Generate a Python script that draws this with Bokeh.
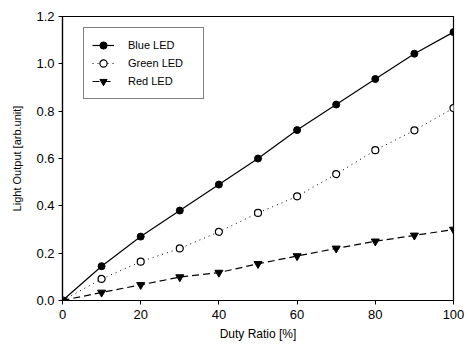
from bokeh.plotting import figure
from bokeh.embed import file_html
from bokeh.resources import INLINE
from bokeh.models import Range1d, FixedTicker, Legend, LegendItem

duty = [0, 10, 20, 30, 40, 50, 60, 70, 80, 90, 100]
blue = [0.0, 0.145, 0.27, 0.38, 0.49, 0.60, 0.72, 0.828, 0.936, 1.043, 1.134]
green = [0.0, 0.091, 0.164, 0.22, 0.29, 0.37, 0.44, 0.534, 0.635, 0.719, 0.813]
red = [0.0, 0.034, 0.066, 0.099, 0.118, 0.155, 0.188, 0.22, 0.25, 0.275, 0.30]
x_ticks = [0, 20, 40, 60, 80, 100]
y_ticks = [0.0, 0.2, 0.4, 0.6, 0.8, 1.0, 1.2]

FONT = "Liberation Sans"

p = figure(width=466, height=345, output_backend="svg", toolbar_location=None,
           x_range=Range1d(0, 100), y_range=Range1d(0, 1.2),
           min_border_left=62, min_border_right=13, min_border_top=16, min_border_bottom=45)
p.xgrid.visible = False
p.ygrid.visible = False
p.outline_line_color = "black"
p.outline_line_width = 1.2

for ax in (p.xaxis[0], p.yaxis[0]):
    ax.axis_line_color = "black"
    ax.axis_line_width = 1.2
    ax.major_tick_line_color = "black"
    ax.minor_tick_line_color = None
    ax.major_tick_out = 4
    ax.major_tick_in = 0
    ax.major_label_text_font = FONT
    ax.major_label_text_font_size = "13px"
    ax.major_label_text_color = "black"
    ax.axis_label_text_font = FONT
    ax.axis_label_text_font_style = "normal"
    ax.axis_label_text_color = "black"

p.xaxis.ticker = FixedTicker(ticks=x_ticks)
p.yaxis.ticker = FixedTicker(ticks=y_ticks)
p.yaxis.major_label_overrides = {t: f"{t:.1f}" for t in y_ticks}
p.xaxis.axis_label = "Duty Ratio [%]"
p.yaxis.axis_label = "Light Output [arb.unit]"
p.xaxis.axis_label_text_font_size = "12px"
p.yaxis.axis_label_text_font_size = "11px"
p.xaxis.major_label_standoff = 5
p.yaxis.major_label_standoff = 4
p.xaxis.axis_label_standoff = 5
p.yaxis.axis_label_standoff = 10

l1 = p.line(duty, blue, line_color="black", line_width=1.2)
s1 = p.scatter(duty, blue, marker="circle", size=7, fill_color="black", line_color="black")
l2 = p.line(duty, green, line_color="black", line_width=1, line_dash="1 4")
s2 = p.scatter(duty, green, marker="circle", size=7, fill_color="white", line_color="black", line_width=1.2)
l3 = p.line(duty, red, line_color="black", line_width=1.2, line_dash="7 4")
s3 = p.scatter(duty, red, marker="inverted_triangle", size=8, fill_color="black", line_color="black")

legend = Legend(items=[
    LegendItem(label="Blue LED", renderers=[l1, s1]),
    LegendItem(label="Green LED", renderers=[l2, s2]),
    LegendItem(label="Red LED", renderers=[l3, s3]),
], location=(21, 201))
legend.label_text_font = FONT
legend.label_text_font_size = "11px"
legend.label_text_color = "black"
legend.border_line_color = "black"
legend.border_line_width = 1.2
legend.glyph_width = 22
legend.glyph_height = 18
legend.label_height = 18
legend.label_width = 67
legend.label_standoff = 14
legend.spacing = 0
legend.padding = 8
legend.margin = 0
p.add_layout(legend)

open("out.html", "w").write(file_html(p, INLINE))
